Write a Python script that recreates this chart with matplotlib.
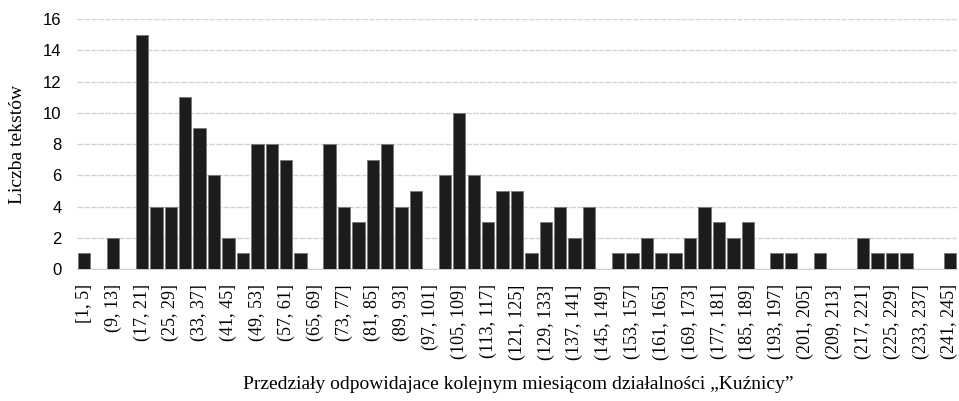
import matplotlib
matplotlib.use('Agg')
import matplotlib.pyplot as plt

# bins of 4 months: [1, 5], (5, 9], ... (241, 245]
starts = list(range(1, 245, 4))
labels = ['[1, 5]'] + ['(%d, %d]' % (s, s + 4) for s in starts[1:]]

counts = [1, 0, 2, 0, 15, 4, 4, 11, 9, 6,
          2, 1, 8, 8, 7, 1, 0, 8, 4, 3,
          7, 8, 4, 5, 0, 6, 10, 6, 3, 5,
          5, 1, 3, 4, 2, 4, 0, 1, 1, 2,
          1, 1, 2, 4, 3, 2, 3, 0, 1, 1,
          0, 1, 0, 0, 2, 1, 1, 1, 0, 0,
          1]

serif = ['Liberation Serif', 'DejaVu Serif']
sans = ['Liberation Sans', 'DejaVu Sans']

fig = plt.figure(figsize=(9.59, 4.01), dpi=100)
ax = fig.add_axes([0.0803, 0.329, 0.9176, 0.6234])

x = list(range(len(counts)))
ax.bar(x, counts, width=0.86, color='#1c1c1c', edgecolor='#7a7a7a',
       linewidth=0.7, zorder=3)

ax.set_xlim(-0.5, len(counts) - 0.5)
ax.set_ylim(0, 16)
ax.set_yticks(range(0, 17, 2))
ax.set_xticks(x[::2])
ax.set_xticklabels(labels[::2], rotation=90, family=serif, fontsize=13)
for t in ax.get_yticklabels():
    t.set_family(sans)
    t.set_fontsize(12)

ax.tick_params(axis='x', length=0, pad=11)
ax.tick_params(axis='y', length=0, pad=11)
ax.yaxis.grid(True, color='#d4d4d4', linewidth=1.0, linestyle=(0, (4, 1)), zorder=0)
for s in ['top', 'right', 'left']:
    ax.spines[s].set_visible(False)
ax.spines['bottom'].set_color('#cfcfcf')

ax.set_ylabel('Liczba tekstów', family=serif, fontsize=14, labelpad=12)
fig.text(0.54, 0.04, 'Przedziały odpowidajace kolejnym miesiącom działalności \u201eKuźnicy\u201d',
         ha='center', va='center', family=serif, fontsize=14)

fig.savefig('out.png', dpi=100)
